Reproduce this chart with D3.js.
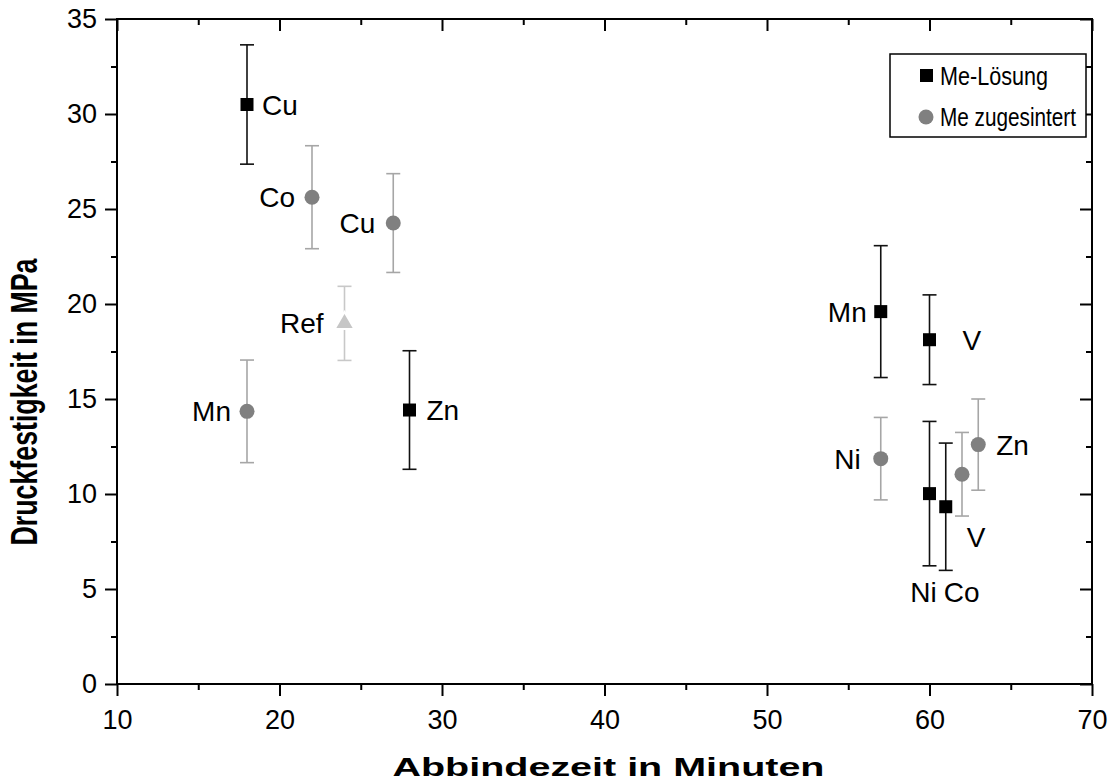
<!DOCTYPE html>
<html>
<head>
<meta charset="utf-8">
<script src="https://cdn.jsdelivr.net/npm/d3@7"></script>
<style>
  body { margin: 0; background: #fff; }
  svg text { font-family: "Liberation Sans", Arial, sans-serif; }
</style>
</head>
<body>
<div id="viz"></div>
<script>
// Me-Lösung (black squares)
const loesungNames = ["Cu", "Zn", "Mn", "V", "Ni", "Co"]
const loesungX     = [18, 28, 57, 60, 60, 61]
const loesungY     = [30.5, 14.42, 19.6, 18.12, 10.02, 9.33]
const loesungErr   = [3.14, 3.12, 3.47, 2.36, 3.8, 3.35]

// Me zugesintert (grey circles)
const sinterNames = ["Co", "Cu", "Mn", "Ni", "V", "Zn"]
const sinterX     = [22, 27, 18, 57, 62, 63]
const sinterY     = [25.62, 24.26, 14.35, 11.86, 11.04, 12.6]
const sinterErr   = [2.71, 2.6, 2.7, 2.17, 2.2, 2.4]

// reference
const refName = ["Ref"]
const refX    = [24]
const refY    = [18.98]
const refErr  = [1.95]

// label placement per point: [dx, dy, anchor]
const loesungLabelPos = [[15, 0, "start"], [17, 0, "start"], [-14, 0, "end"],
                         [33, 0, "start"], [-6, 98, "middle"], [16, 85, "middle"]]
const sinterLabelPos  = [[-17, 0, "end"], [-18, 0, "end"], [-16, 0, "end"],
                         [-20, 0, "end"], [14, 63, "middle"], [18, 0, "start"]]
const refLabelPos     = [[-21, 0, "end"]]

const xTicks = [10, 20, 30, 40, 50, 60, 70]
const yTicks = [0, 5, 10, 15, 20, 25, 30, 35]

const width = 1115, height = 780
const margin = { left: 117, right: 23, top: 19, bottom: 96 }

const svg = d3.select("#viz").append("svg")
    .attr("width", width)
    .attr("height", height)

const x = d3.scaleLinear().domain([10, 70]).range([margin.left, width - margin.right])
const y = d3.scaleLinear().domain([0, 35]).range([height - margin.bottom, margin.top])

const minorX = d3.range(15, 70, 10)
const minorY = d3.range(2.5, 35, 5)

// axes: outward ticks on bottom/left, inward on top/right
function styleAxis(g) {
  g.select(".domain").remove()
  g.selectAll(".tick line").attr("stroke", "#000").attr("stroke-width", 2)
  g.selectAll(".tick text").attr("fill", "#000").attr("font-size", 27)
}

svg.append("g").attr("transform", `translate(0,${y(0)})`)
    .call(d3.axisBottom(x).tickValues(xTicks).tickSize(12).tickPadding(14))
    .call(styleAxis)
svg.append("g").attr("transform", `translate(0,${y(0)})`)
    .call(d3.axisBottom(x).tickValues(minorX).tickSize(6).tickFormat(""))
    .call(styleAxis)
svg.append("g").attr("transform", `translate(${x(10)},0)`)
    .call(d3.axisLeft(y).tickValues(yTicks).tickSize(12).tickPadding(8))
    .call(styleAxis)
svg.append("g").attr("transform", `translate(${x(10)},0)`)
    .call(d3.axisLeft(y).tickValues(minorY).tickSize(6).tickFormat(""))
    .call(styleAxis)
svg.append("g").attr("transform", `translate(0,${y(35)})`)
    .call(d3.axisBottom(x).tickValues(xTicks).tickSize(12).tickFormat(""))
    .call(styleAxis)
svg.append("g").attr("transform", `translate(0,${y(35)})`)
    .call(d3.axisBottom(x).tickValues(minorX).tickSize(6).tickFormat(""))
    .call(styleAxis)
svg.append("g").attr("transform", `translate(${x(70)},0)`)
    .call(d3.axisLeft(y).tickValues(yTicks).tickSize(12).tickFormat(""))
    .call(styleAxis)
svg.append("g").attr("transform", `translate(${x(70)},0)`)
    .call(d3.axisLeft(y).tickValues(minorY).tickSize(6).tickFormat(""))
    .call(styleAxis)

// frame
svg.append("rect")
    .attr("x", x(10)).attr("y", y(35))
    .attr("width", x(70) - x(10)).attr("height", y(0) - y(35))
    .attr("fill", "none").attr("stroke", "#000").attr("stroke-width", 2)

// axis titles
svg.append("text")
    .attr("x", (x(10) + x(70)) / 2 + 4).attr("y", 776)
    .attr("text-anchor", "middle")
    .attr("font-size", 25).attr("font-weight", "bold")
    .attr("textLength", 432).attr("lengthAdjust", "spacingAndGlyphs")
    .text("Abbindezeit in Minuten")
svg.append("text")
    .attr("transform", `translate(37,402) rotate(-90)`)
    .attr("text-anchor", "middle")
    .attr("font-size", 36).attr("font-weight", "bold")
    .attr("textLength", 287).attr("lengthAdjust", "spacingAndGlyphs")
    .text("Druckfestigkeit in MPa")

function series(names, xs, ys, errs, labelPos, barColor) {
  const data = names.map((n, i) => ({ name: n, x: xs[i], y: ys[i], err: errs[i], pos: labelPos[i] }))
  const g = svg.append("g")
  const bars = g.selectAll(".err").data(data).enter().append("g")
  bars.append("line")
      .attr("x1", d => x(d.x)).attr("x2", d => x(d.x))
      .attr("y1", d => y(d.y - d.err)).attr("y2", d => y(d.y + d.err))
  bars.append("line")
      .attr("x1", d => x(d.x) - 7).attr("x2", d => x(d.x) + 7)
      .attr("y1", d => y(d.y + d.err)).attr("y2", d => y(d.y + d.err))
  bars.append("line")
      .attr("x1", d => x(d.x) - 7).attr("x2", d => x(d.x) + 7)
      .attr("y1", d => y(d.y - d.err)).attr("y2", d => y(d.y - d.err))
  bars.selectAll("line").attr("stroke", barColor).attr("stroke-width", 1.6)

  g.selectAll(".lbl").data(data).enter().append("text")
      .attr("x", d => x(d.x) + d.pos[0])
      .attr("y", d => y(d.y) + d.pos[1])
      .attr("dy", "0.36em")
      .attr("text-anchor", d => d.pos[2])
      .attr("font-size", 28)
      .text(d => d.name)
  return g.selectAll(".mark").data(data).enter()
}

series(loesungNames, loesungX, loesungY, loesungErr, loesungLabelPos, "#111")
  .append("rect")
    .attr("x", d => x(d.x) - 6.5).attr("y", d => y(d.y) - 6.5)
    .attr("width", 13).attr("height", 13)
    .attr("fill", "#000")

series(sinterNames, sinterX, sinterY, sinterErr, sinterLabelPos, "#a6a6a6")
  .append("circle")
    .attr("cx", d => x(d.x)).attr("cy", d => y(d.y))
    .attr("r", 7.5)
    .attr("fill", "#808080")

series(refName, refX, refY, refErr, refLabelPos, "#c8c8c8")
  .append("path")
    .attr("transform", d => `translate(${x(d.x)},${y(d.y)})`)
    .attr("d", d3.symbol(d3.symbolTriangle, 170))
    .attr("fill", "#c6c6c6").attr("stroke", "#fff").attr("stroke-width", 2)

// legend
const legendItems = ["Me-Lösung", "Me zugesintert"]
const legendLen = [108, 136]
const legend = svg.append("g")
legend.append("rect")
    .attr("x", 890).attr("y", 54).attr("width", 196).attr("height", 83)
    .attr("fill", "#fff").attr("stroke", "#000").attr("stroke-width", 1.5)
legend.selectAll(".ltxt").data(legendItems).enter().append("text")
    .attr("x", 940).attr("y", (d, i) => 76 + i * 41)
    .attr("dy", "0.36em")
    .attr("font-size", 26)
    .attr("textLength", (d, i) => legendLen[i]).attr("lengthAdjust", "spacingAndGlyphs")
    .text(d => d)
legend.append("rect")
    .attr("x", 920).attr("y", 69).attr("width", 13).attr("height", 13).attr("fill", "#000")
legend.append("circle")
    .attr("cx", 926).attr("cy", 117).attr("r", 7.5).attr("fill", "#808080")
</script>
</body>
</html>
